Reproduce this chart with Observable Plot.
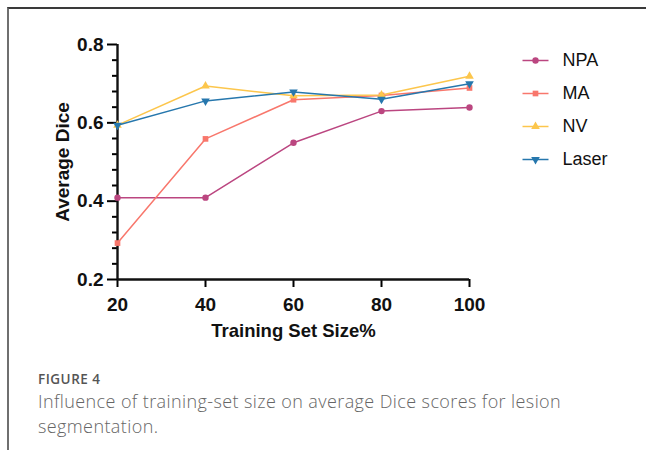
<!DOCTYPE html>
<html>
<head>
<meta charset="utf-8">
<script src="https://cdn.jsdelivr.net/npm/d3@7"></script>
<script src="https://cdn.jsdelivr.net/npm/@observablehq/plot@0.6"></script>
<style>
  body { margin: 0; background: #fff; }
  #wrap { position: relative; width: 646px; height: 450px; overflow: hidden; background: #fff; }
  #frame { position: absolute; left: 7px; top: 7px; width: 700px; height: 500px; border-top: 2px solid #3a3a3a; border-left: 2px solid #6f6f6f; }
  #chart { position: absolute; left: 0; top: 0; line-height: 0; }
  #legend { position: absolute; left: 515px; top: 40px; line-height: 0; }
  #fig { position: absolute; left: 38px; top: 370px; font-family: "Open Sans", sans-serif; font-size: 13.5px; font-weight: 600; color: #555; letter-spacing: 0.5px; }
  #cap { position: absolute; left: 38px; top: 389px; width: 545px; font-family: "Open Sans", sans-serif; font-size: 18px; font-weight: 300; color: #666; line-height: 25px; letter-spacing: 0.4px; }
</style>
</head>
<body>
<div id="wrap">
  <div id="frame"></div>
  <div id="chart"></div>
  <div id="legend"></div>
  <div id="fig">FIGURE 4</div>
  <div id="cap">Influence of training-set size on average Dice scores for lesion segmentation.</div>
</div>
<script>
// ---- data ----
const sizes = [20, 40, 60, 80, 100];
const seriesNames = ["NPA", "MA", "NV", "Laser"];
const npa   = [0.409, 0.409, 0.549, 0.630, 0.639];
const ma    = [0.293, 0.559, 0.659, 0.670, 0.689];
const nv    = [0.594, 0.694, 0.669, 0.671, 0.719];
const laser = [0.594, 0.656, 0.679, 0.660, 0.700];
const yMajorTicks = [0.2, 0.4, 0.6, 0.8];
const yMinorTicks = [0.24, 0.28, 0.32, 0.36, 0.44, 0.48, 0.52, 0.56, 0.64, 0.68, 0.72, 0.76];
const xTicks = [20, 40, 60, 80, 100];
const xLabel = "Training Set Size%";
const yLabel = "Average Dice";

const colors = ["#bb4680", "#f8776c", "#fcc64c", "#2677ad"];
const symbols = ["circle", "square", "triangle", "triangle"];
const rotations = [0, 0, 0, 180];

const valuesBySeries = [npa, ma, nv, laser];
const rows = [];
seriesNames.forEach((s, i) => sizes.forEach((x, j) => rows.push({series: s, x, y: valuesBySeries[i][j], rot: rotations[i]})));

const font = "'Liberation Sans', Arial, Helvetica, sans-serif";

const chart = Plot.plot({
  width: 646,
  height: 350,
  marginLeft: 117,
  marginRight: 177,
  marginTop: 44,
  marginBottom: 71,
  style: {fontFamily: font, background: "transparent", overflow: "visible"},
  x: {domain: [20, 100]},
  y: {domain: [0.2, 0.8]},
  color: {domain: seriesNames, range: colors},
  symbol: {domain: seriesNames, range: symbols},
  marks: [
    Plot.axisY({ticks: yMinorTicks, tickSize: 5, tickFormat: () => "", strokeWidth: 2, label: null}),
    Plot.axisY({ticks: yMajorTicks, tickSize: 10, tickPadding: 4, tickFormat: d => d.toFixed(1), fontSize: 19, fontWeight: "bold", fill: "#111", strokeWidth: 2, label: null}),
    Plot.axisX({ticks: xTicks, tickSize: 8, tickPadding: 10, tickFormat: d => String(d), fontSize: 19, fontWeight: "bold", fill: "#111", strokeWidth: 2, label: null}),
    Plot.ruleX([20], {strokeWidth: 2.4, stroke: "#111"}),
    Plot.ruleY([0.2], {strokeWidth: 2.4, stroke: "#111"}),
    Plot.text([xLabel], {frameAnchor: "bottom", dy: 52, lineAnchor: "middle", textAnchor: "middle", fontSize: 18.5, fontWeight: "bold", fill: "#111"}),
    Plot.text([yLabel], {frameAnchor: "left", dx: -55, rotate: -90, textAnchor: "middle", lineAnchor: "middle", fontSize: 19, fontWeight: "bold", fill: "#111"}),
    Plot.line(rows, {x: "x", y: "y", z: "series", stroke: "series", strokeWidth: 1.5}),
    Plot.dot(rows, {x: "x", y: "y", fill: "series", symbol: "series", rotate: "rot", r: 3.2})
  ]
});
document.getElementById("chart").append(chart);

const legendRows = seriesNames.map((s, i) => ({series: s, rot: rotations[i]}));
const legend = Plot.plot({
  width: 131,
  height: 140,
  margin: 0,
  style: {fontFamily: font, background: "transparent", overflow: "visible"},
  x: {domain: [0, 1], range: [7, 33], axis: null},
  y: {type: "point", domain: seriesNames, range: [20, 119], padding: 0, axis: null},
  color: {domain: seriesNames, range: colors},
  symbol: {domain: seriesNames, range: symbols},
  marks: [
    Plot.link(legendRows, {x1: 0, x2: 1, y1: "series", y2: "series", stroke: "series", strokeWidth: 1.5}),
    Plot.dot(legendRows, {x: 0.5, y: "series", fill: "series", symbol: "series", rotate: "rot", r: 3.2}),
    Plot.text(legendRows, {x: 1, y: "series", text: "series", dx: 14, textAnchor: "start", fontSize: 18, fill: "#111"})
  ]
});
document.getElementById("legend").append(legend);
</script>
</body>
</html>
